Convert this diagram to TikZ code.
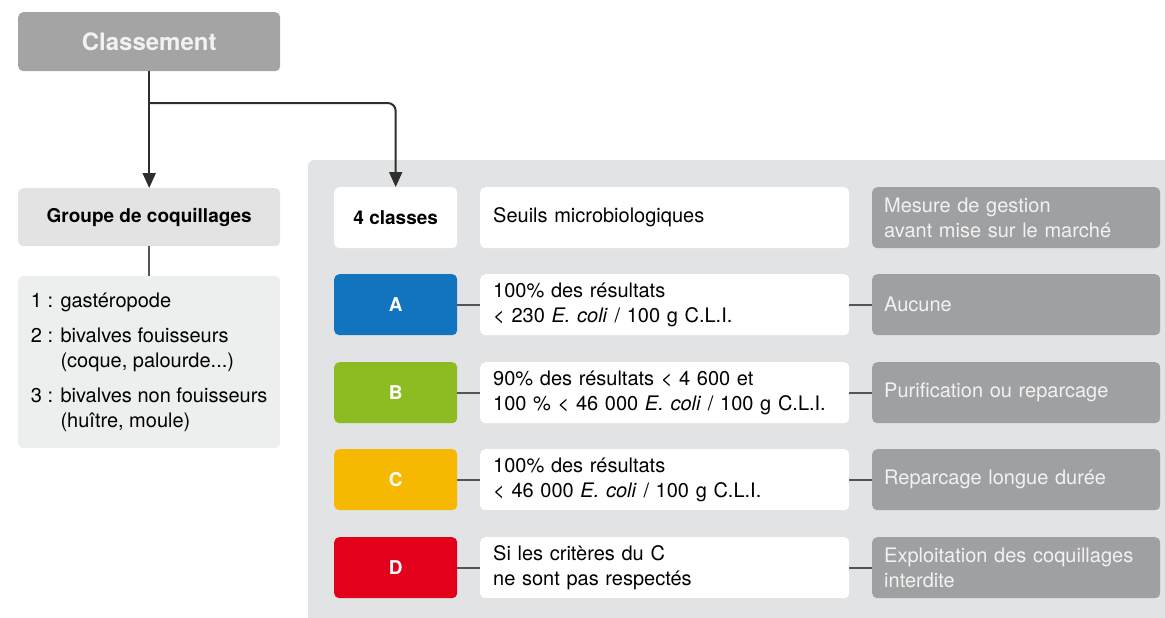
\documentclass[tikz,border=0pt]{standalone}
\usepackage{fontspec}
\setmainfont{TeX Gyre Heros}
\usetikzlibrary{arrows.meta}

\definecolor{panelgray}{HTML}{E2E3E4}
\definecolor{clsgray}{HTML}{A4A4A4}
\definecolor{grpgray}{HTML}{E3E3E3}
\definecolor{lstgray}{HTML}{EDEEEE}
\definecolor{gestgray}{HTML}{9FA0A2}
\definecolor{gesttext}{HTML}{F2F2F2}
\definecolor{linkgray}{HTML}{555555}
\definecolor{arrowgray}{HTML}{2E2E2E}
\definecolor{classA}{HTML}{1273BE}
\definecolor{classB}{HTML}{8DBB22}
\definecolor{classC}{HTML}{F6B800}
\definecolor{classD}{HTML}{E2001A}

\begin{document}
\begin{tikzpicture}[x=1pt, y=-1pt, font=\fontsize{20}{25}\selectfont,
    card/.style={rounded corners=5pt, inner sep=0pt, minimum height=61pt, anchor=north west},
    classcell/.style={card, minimum width=123pt, text=white, font=\fontsize{19}{25}\selectfont\bfseries},
    seuilcell/.style={card, fill=white, minimum width=369pt, text width=343pt, align=left},
    gestcell/.style={card, fill=gestgray, text=gesttext, minimum width=288pt, text width=264pt, align=left},
    link/.style={draw=linkgray, line width=2pt},
    arrow/.style={draw=arrowgray, line width=2pt, -{Triangle[width=13pt,length=15pt]}}]

        \useasboundingbox (0,0) rectangle (1165,618);

        % Grey panel behind the table
        \fill[panelgray] (308,618) [rounded corners=6pt] -- (308,160) [sharp corners] -- (1165,160) -- (1165,618) -- cycle;

        % Left column
        \node[card, fill=clsgray, text=gesttext, minimum width=262pt, minimum height=59pt, font=\fontsize{24}{28}\selectfont\bfseries] (cls) at (18,12) {Classement};
        \node[card, fill=grpgray, minimum width=262pt, minimum height=58pt, font=\fontsize{19}{25}\selectfont\bfseries] (grp) at (18,188) {Groupe de coquillages};
        \node[card, fill=lstgray, minimum width=262pt, minimum height=172pt, align=left] (lst) at (18,276)
            {1 : gastéropode\\[10pt]
             2 : bivalves fouisseurs\\
             \hphantom{2 : }(coque, palourde...)\\[10pt]
             3 : bivalves non fouisseurs\\
             \hphantom{3 : }(huître, moule)};

        % Header row
        \node[classcell, fill=white, text=black] (clH) at (334,187) {4 classes};
        \node[seuilcell] (seH) at (480,187) {Seuils microbiologiques};
        \node[gestcell] (geH) at (872,187) {Mesure de gestion\\avant mise sur le marché};

        % Class A
        \node[classcell, fill=classA] (clA) at (334,274) {A};
        \node[seuilcell] (seA) at (480,274) {100\% des résultats\\< 230 \textit{E. coli} / 100 g C.L.I.};
        \node[gestcell] (geA) at (872,274) {Aucune};

        % Class B
        \node[classcell, fill=classB] (clB) at (334,362) {B};
        \node[seuilcell] (seB) at (480,362) {90\% des résultats < 4 600 et\\100 \% < 46 000 \textit{E. coli} / 100 g C.L.I.};
        \node[gestcell] (geB) at (872,362) {Purification ou reparcage};

        % Class C
        \node[classcell, fill=classC] (clC) at (334,449) {C};
        \node[seuilcell] (seC) at (480,449) {100\% des résultats\\< 46 000 \textit{E. coli} / 100 g C.L.I.};
        \node[gestcell] (geC) at (872,449) {Reparcage longue durée};

        % Class D
        \node[classcell, fill=classD] (clD) at (334,537) {D};
        \node[seuilcell] (seD) at (480,537) {Si les critères du C\\ne sont pas respectés};
        \node[gestcell] (geD) at (872,537) {Exploitation des coquillages\\interdite};

        % Draw arrows from Classement
        \coordinate (split) at (149,103);
        \draw[arrow] (cls) -- (grp);
        \draw[arrow, rounded corners=8pt] (split) -| (clH);

        % Draw links in the left column
        \draw[link] (grp) -- (lst);

        % Draw links along each class row
        \draw[link] (clA) -- (seA);
        \draw[link] (seA) -- (geA);
        \draw[link] (clB) -- (seB);
        \draw[link] (seB) -- (geB);
        \draw[link] (clC) -- (seC);
        \draw[link] (seC) -- (geC);
        \draw[link] (clD) -- (seD);
        \draw[link] (seD) -- (geD);

\end{tikzpicture}
\end{document}
